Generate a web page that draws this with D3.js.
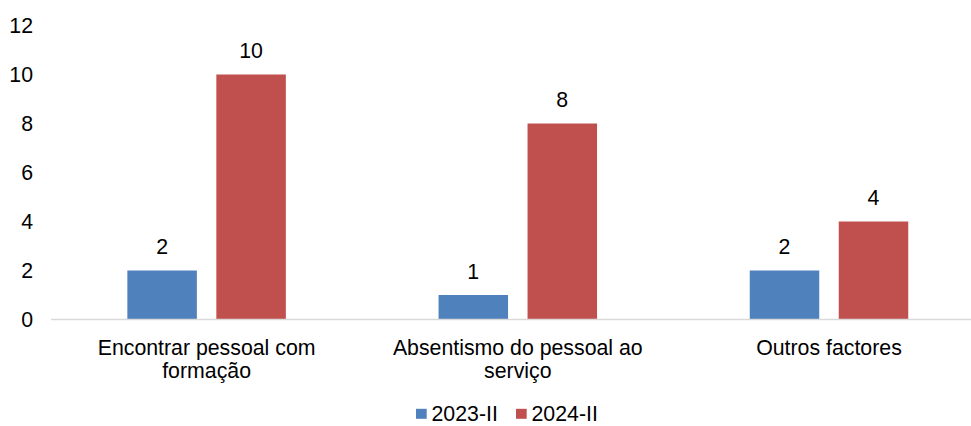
<!DOCTYPE html>
<html>
<head>
<meta charset="utf-8">
<script src="https://cdn.jsdelivr.net/npm/d3@7"></script>
<style>
  html, body { margin: 0; padding: 0; background: #fff; }
  svg { display: block; font-family: "Liberation Sans", Arial, sans-serif; }
</style>
</head>
<body>
<svg id="chart" width="971" height="426"></svg>
<script>
// Factors reported, by survey round
const categories = [
  ["Encontrar pessoal com", "formação"],
  ["Absentismo do pessoal ao", "serviço"],
  ["Outros factores"]
];
const seriesNames = ["2023-II", "2024-II"];
const values2023 = [2, 1, 2];
const values2024 = [10, 8, 4];
const yTicks = [0, 2, 4, 6, 8, 10, 12];
const colors = ["#4F81BD", "#C0504D"];

const svg = d3.select("#chart");
const fontSize = 21.3;

const catKeys = categories.map(c => c.join(" "));
const x0 = d3.scaleBand().domain(catKeys).range([51, 984.6]).paddingInner(0).paddingOuter(0);
const x1 = d3.scaleBand().domain(seriesNames).range([0, x0.bandwidth()])
  .paddingInner(0.219).paddingOuter(0.858);
const y = d3.scaleLinear().domain([0, 12]).range([319.5, 25.5]);

// Y axis labels (no line, no ticks)
const yAxis = d3.axisLeft(y).tickValues(yTicks).tickSize(0).tickPadding(0).tickFormat(d3.format("d"));
const yg = svg.append("g").attr("transform", "translate(33,0)").call(yAxis);
yg.select(".domain").remove();
yg.selectAll("text").attr("font-size", fontSize).attr("fill", "#000")
  .attr("font-family", "Liberation Sans, Arial, sans-serif");

// Bars
const rows = catKeys.map((k, i) => ({ key: k, vals: [values2023[i], values2024[i]] }));
const groups = svg.append("g").selectAll("g").data(rows).join("g")
  .attr("transform", d => `translate(${x0(d.key)},0)`);

groups.selectAll("rect").data(d => d.vals.map((v, j) => ({ s: seriesNames[j], v, j })))
  .join("rect")
  .attr("x", d => x1(d.s))
  .attr("width", x1.bandwidth())
  .attr("y", d => y(d.v))
  .attr("height", d => y(0) - y(d.v))
  .attr("fill", d => colors[d.j]);

groups.selectAll("text.val").data(d => d.vals.map((v, j) => ({ s: seriesNames[j], v, j })))
  .join("text").attr("class", "val")
  .attr("x", d => x1(d.s) + x1.bandwidth() / 2)
  .attr("y", d => y(d.v) - 16.5)
  .attr("text-anchor", "middle")
  .attr("font-size", fontSize)
  .attr("fill", "#000")
  .text(d => d.v);

// X baseline
svg.append("line")
  .attr("x1", 51).attr("x2", 984.6)
  .attr("y1", y(0)).attr("y2", y(0))
  .attr("stroke", "#D9D9D9").attr("stroke-width", 1.5);

// Category labels (wrapped onto lines)
const catLabels = svg.append("g").selectAll("text").data(categories).join("text")
  .attr("text-anchor", "middle")
  .attr("font-size", fontSize)
  .attr("fill", "#000")
  .attr("x", (d, i) => x0(catKeys[i]) + x0.bandwidth() / 2)
  .attr("y", 354.5);
catLabels.selectAll("tspan").data(d => d).join("tspan")
  .attr("x", function () { return d3.select(this.parentNode).attr("x"); })
  .attr("dy", (d, i) => i === 0 ? 0 : 23.5)
  .text(d => d);

// Legend
const legend = svg.append("g");
const legendX = [416, 516];
seriesNames.forEach((name, i) => {
  legend.append("rect")
    .attr("x", legendX[i]).attr("y", 408.8)
    .attr("width", 10.7).attr("height", 10)
    .attr("fill", colors[i]);
  legend.append("text")
    .attr("x", legendX[i] + 15.5).attr("y", 421)
    .attr("font-size", fontSize).attr("fill", "#000")
    .text(name);
});
</script>
</body>
</html>
